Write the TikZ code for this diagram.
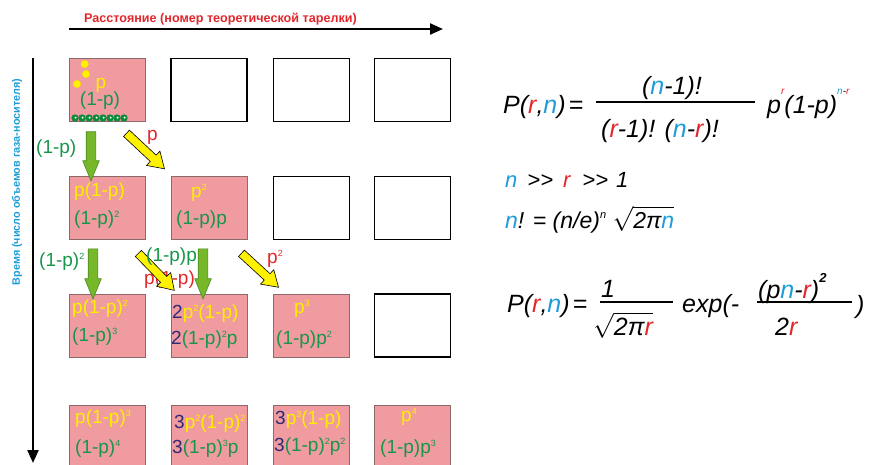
\documentclass[tikz,border=0pt]{standalone}
\usepackage{fontspec}
\setmainfont{Liberation Sans}
\usetikzlibrary{shapes.arrows,calc,arrows.meta}
\definecolor{redc}{HTML}{E3262B}
\definecolor{bluec}{HTML}{1D9CD8}
\definecolor{gtext}{HTML}{17964A}
\definecolor{ytext}{HTML}{FFEE00}
\definecolor{navyc}{HTML}{2E2A78}
\definecolor{pinkc}{HTML}{EF9BA0}
\definecolor{pinkedge}{HTML}{8A6A6A}
\definecolor{garrowfill}{HTML}{76B82A}
\definecolor{garrowedge}{HTML}{4A8A1E}
\definecolor{yarrowfill}{HTML}{FFF200}
\definecolor{gdotc}{HTML}{0E8A3A}
\newcommand\sps[1]{\raisebox{7pt}{\fontsize{9}{9}\selectfont #1}}
\newcommand\Y[1]{\textcolor{ytext}{#1}}
\newcommand\G[1]{\textcolor{gtext}{#1}}
\newcommand\N[1]{\textcolor{navyc}{#1}}
\newcommand\R[1]{\textcolor{redc}{#1}}
\newcommand\B[1]{\textcolor{bluec}{#1}}
\newcommand\blockarrow[4]{\path let \p1=(#2), \p2=(#3), \n1={atan2(\y2-\y1,\x2-\x1)}, \n2={veclen(\x2-\x1,\y2-\y1)} in ($(#2)!0.5!(#3)$) node (#4) [#1, rotate=\n1, minimum height=\n2] {};}
\begin{document}
\begin{tikzpicture}[x=1pt,y=-1pt,
  pinkbox/.style={draw=pinkedge, fill=pinkc, line width=0.8pt, minimum width=76pt, minimum height=63pt, inner sep=0pt, outer sep=0pt},
  emptybox/.style={draw=black, fill=white, line width=1.8pt, minimum width=76pt, minimum height=63pt, inner sep=0pt, outer sep=0pt},
  bt/.style={font=\fontsize{19}{21}\selectfont, inner sep=0pt, anchor=base west},
  btc/.style={font=\fontsize{19}{21}\selectfont, inner sep=0pt, anchor=base},
  fbig/.style={font=\fontsize{25}{28}\selectfont\itshape, inner sep=0pt, anchor=base west},
  fmid/.style={font=\fontsize{22}{25}\selectfont\itshape, inner sep=0pt, anchor=base west},
  axisline/.style={line width=2.2pt, -{Triangle[length=13pt,width=11pt]}},
  garrow/.style={single arrow, draw=garrowedge, fill=garrowfill, line width=0.6pt, inner xsep=0pt, inner ysep=4.5pt, single arrow head extend=3.5pt, single arrow tip angle=45},
  yarrow/.style={single arrow, draw=black, fill=yarrowfill, line width=0.6pt, inner xsep=0pt, inner ysep=4pt, single arrow head extend=5.5pt, single arrow tip angle=65},
  fbar/.style={line width=2.2pt}
]
\useasboundingbox (0,0) rectangle (870,464);

% axes
\coordinate (hx0) at (69,29);
\coordinate (hx1) at (443,29);
\draw[axisline] (hx0) -- (hx1);
\node[font=\fontsize{12.6}{13}\selectfont\bfseries, text=redc, inner sep=0pt, anchor=base west] (title) at (84,22) {Расстояние (номер теоретической тарелки)};
\coordinate (vy0) at (33,58);
\coordinate (vy1) at (33,463);
\draw[axisline] (vy0) -- (vy1);
\node[rotate=90, font=\fontsize{10.8}{12}\selectfont\bfseries, text=bluec, inner sep=0pt] (ylab) at (17,182) {Время (число объемов газа-носителя)};

% boxes
\node[pinkbox] (b11) at (107,90) {};
\node[emptybox] (b12) at (209,90) {};
\node[emptybox] (b13) at (311.5,90) {};
\node[emptybox] (b14) at (412.5,90) {};
\node[pinkbox] (b21) at (107,208) {};
\node[pinkbox] (b22) at (209,208) {};
\node[emptybox] (b23) at (311.5,208) {};
\node[emptybox] (b24) at (412.5,208) {};
\node[pinkbox] (b31) at (107,325.5) {};
\node[pinkbox] (b32) at (209,325.5) {};
\node[pinkbox] (b33) at (311.5,325.5) {};
\node[emptybox] (b34) at (412.5,325.5) {};
\node[pinkbox] (b41) at (107,436.5) {};
\node[pinkbox] (b42) at (209,436.5) {};
\node[pinkbox] (b43) at (311.5,436.5) {};
\node[pinkbox] (b44) at (412.5,436.5) {};

% dots in first box
\foreach \px/\py in {84.7/64, 86/74, 77/84}
  \filldraw[fill=yarrowfill, draw=ytext!80!orange, line width=0.3pt] (\px,\py) circle (3.8pt);
\foreach \px in {75,82,...,124} {
  \fill[gdotc] (\px,118) circle (3.7pt);
  \fill[white] (\px+0.6,117.6) circle (1.1pt);
}

% box texts
\node[btc] (t11a) at (101,88) {\Y{p}};
\node[btc] (t11b) at (100,105.5) {\G{(1-p)}};
\node[bt] (t21a) at (74,196) {\Y{p(1-p)}};
\node[bt] (t21b) at (74,224.5) {\G{(1-p)\sps{2}}};
\node[btc] (t22a) at (199,197) {\Y{p\sps{2}}};
\node[bt] (t22b) at (176,224.5) {\G{(1-p)p}};
\node[bt] (t31a) at (72,313) {\Y{p(1-p)\sps{2}}};
\node[bt] (t31b) at (72,341) {\G{(1-p)\sps{3}}};
\node[bt] (t32a) at (172,318) {\N{2}\Y{p\sps{2}(1-p)}};
\node[bt] (t32b) at (171,344.5) {\N{2}\G{(1-p)\sps{2}p}};
\node[btc] (t33a) at (302,313) {\Y{p\sps{3}}};
\node[bt] (t33b) at (276,344.5) {\G{(1-p)p\sps{2}}};
\node[bt] (t41a) at (75,423) {\Y{p(1-p)\sps{3}}};
\node[bt] (t41b) at (75,453) {\G{(1-p)\sps{4}}};
\node[bt] (t42a) at (174,428) {\N{3}\Y{p\sps{2}(1-p)\sps{2}}};
\node[bt] (t42b) at (172,453) {\N{3}\G{(1-p)\sps{3}p}};
\node[bt] (t43a) at (275,424.5) {\N{3}\Y{p\sps{3}(1-p)}};
\node[bt] (t43b) at (274,451) {\N{3}\G{(1-p)\sps{2}p\sps{2}}};
\node[btc] (t44a) at (409,421.7) {\Y{p\sps{4}}};
\node[bt] (t44b) at (380,453) {\G{(1-p)p\sps{3}}};

% arrow end points
\coordinate (g1s) at ($(b11.south west)+(22,4.5)$);
\coordinate (g1e) at ($(b21.north west)+(22,-1.5)$);
\coordinate (y1s) at ($(b11.south west)+(55,9.5)$);
\coordinate (y1e) at ($(b22.north west)+(-9,-10)$);
\coordinate (g2s) at ($(b21.south west)+(24,3.5)$);
\coordinate (g2e) at ($(b31.north west)+(24,-1)$);
\coordinate (y2s) at ($(b21.south west)+(67,11.5)$);
\coordinate (y2e) at ($(b32.north west)+(1,-6)$);
\coordinate (g3s) at ($(b22.south west)+(32,3.5)$);
\coordinate (g3e) at ($(b32.north west)+(32,-1)$);
\coordinate (y3s) at ($(b22.south west)+(68,11.5)$);
\coordinate (y3e) at ($(b33.north west)+(2.5,-9)$);

% label beneath an arrow
\node[bt] (l2r) at (144,284.5) {\R{p(1-p)}};

% block arrows
\blockarrow{garrow}{g1s}{g1e}{a1}
\blockarrow{yarrow}{y1s}{y1e}{a2}
\blockarrow{garrow}{g2s}{g2e}{a3}
\blockarrow{yarrow}{y2s}{y2e}{a4}
\blockarrow{garrow}{g3s}{g3e}{a5}
\blockarrow{yarrow}{y3s}{y3e}{a6}

% labels
\node[bt] (l1g) at (36,153) {\G{(1-p)}};
\node[bt] (l1r) at (147,140.7) {\R{p}};
\node[bt] (l2g) at (39,266) {\G{(1-p)\sps{2}}};
\node[bt] (l2m) at (146,261) {\G{(1-p)p}};
\node[bt] (l3r) at (267,263) {\R{p\sps{2}}};

% formula 1
\node[fbig] (f1l) at (503,113) {P(\R{r},\B{n})\hspace{3pt}=};
\node[fbig, anchor=base] (f1n) at (672,94) {(\B{n}-1)!};
\node[fbig, anchor=base] (f1d) at (660,137) {(\R{r}-1)! (\B{n}-\R{r})!};
\draw[fbar] (596,102) -- (755,102);
\node[fbig] (f1r) at (767,113) {p\raisebox{19pt}{\fontsize{10}{10}\selectfont\R{r}}(1-p)\raisebox{19pt}{\fontsize{10}{10}\selectfont\B{n}-\R{r}}};

% formula 2
\node[fmid] (f2a) at (505,187) {\B{n}\hspace{10pt}>{}>\hspace{10pt}\R{r}\hspace{12pt}>{}>\hspace{8pt}1};
\node[fmid, font=\fontsize{23}{25}\selectfont\itshape] (f2b) at (505,228) {\B{n}! = (n/e)\raisebox{10pt}{\fontsize{11}{11}\selectfont n} $\sqrt{\hbox{\fontsize{23}{25}\selectfont\itshape 2π\B{n}}}$};

% formula 3
\node[fbig] (f3l) at (507,312) {P(\R{r},\B{n})\hspace{3pt}=};
\node[fbig] (f3n) at (601,297) {1};
\draw[fbar] (600,302) -- (673,302);
\node[fbig] (f3d) at (593,335) {$\sqrt{\hbox{\fontsize{25}{28}\selectfont\itshape 2π\R{r}}}$};
\node[fbig] (f3e) at (682,312) {exp(-};
\node[fbig] (f3nn) at (758,298) {(p\B{n}-\R{r})\raisebox{16pt}{\fontsize{13}{13}\selectfont\bfseries 2}};
\draw[fbar] (757,302) -- (852,302);
\node[fbig] (f3dd) at (775,335) {2\R{r}};
\node[fbig] (f3c) at (856,313) {)};
\end{tikzpicture}
\end{document}
